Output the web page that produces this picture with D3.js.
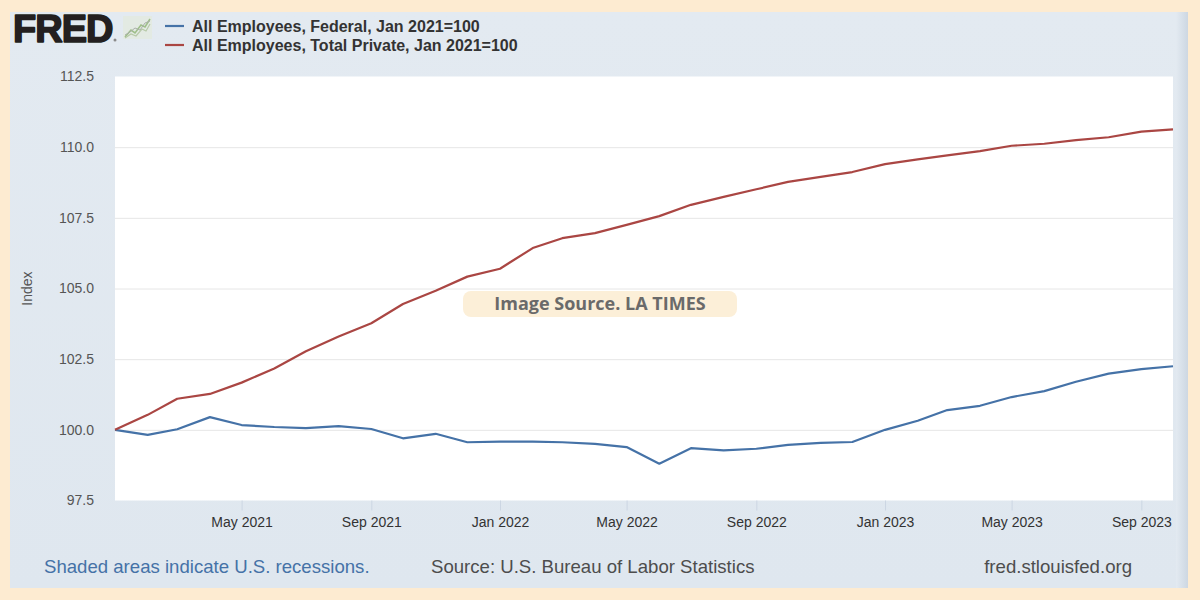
<!DOCTYPE html>
<html>
<head>
<meta charset="utf-8">
<script src="https://cdn.jsdelivr.net/npm/d3@7"></script>
<style>
  html, body { margin: 0; padding: 0; background: #fdebd1; }
  svg { display: block; }
</style>
</head>
<body>
<svg id="chart" width="1200" height="600"></svg>
<script>
// ---- Data ----
const months = [
  "2021-01","2021-02","2021-03","2021-04","2021-05","2021-06","2021-07","2021-08","2021-09","2021-10","2021-11","2021-12",
  "2022-01","2022-02","2022-03","2022-04","2022-05","2022-06","2022-07","2022-08","2022-09","2022-10","2022-11","2022-12",
  "2023-01","2023-02","2023-03","2023-04","2023-05","2023-06","2023-07","2023-08","2023-09","2023-10"
];
const federal = [
  100.00, 99.82, 100.02, 100.45, 100.17, 100.10, 100.06, 100.13, 100.03, 99.70, 99.86, 99.56,
  99.58, 99.58, 99.56, 99.50, 99.39, 98.80, 99.35, 99.27, 99.33, 99.47, 99.54, 99.57,
  100.00, 100.32, 100.70, 100.85, 101.16, 101.37, 101.70, 101.99, 102.15, 102.25
];
const totalPrivate = [
  100.00, 100.53, 101.10, 101.27, 101.67, 102.17, 102.78, 103.30, 103.77, 104.45, 104.92, 105.42,
  105.70, 106.43, 106.78, 106.96, 107.25, 107.56, 107.96, 108.24, 108.51, 108.77, 108.95, 109.12,
  109.40, 109.57, 109.71, 109.86, 110.05, 110.12, 110.25, 110.35, 110.55, 110.63
];
const seriesNames = [
  "All Employees, Federal, Jan 2021=100",
  "All Employees, Total Private, Jan 2021=100"
];
const seriesColors = ["#4572a7", "#aa4643"];
const yTicks = [97.5, 100.0, 102.5, 105.0, 107.5, 110.0, 112.5];
const xTickMonths = ["2021-05","2021-09","2022-01","2022-05","2022-09","2023-01","2023-05","2023-09"];

// ---- Layout ----
const svg = d3.select("#chart");
const W = 1200, H = 600;
const plot = { left: 115, right: 1173, top: 76.5, bottom: 500.5 };
const parse = d3.timeParse("%Y-%m");

// Outer background + panel
svg.append("rect").attr("width", W).attr("height", H).attr("fill", "#fdebd1");
const defs = svg.append("defs");
const pg = defs.append("linearGradient").attr("id", "panelGrad").attr("x1", 0).attr("x2", 0).attr("y1", 0).attr("y2", 1);
pg.append("stop").attr("offset", "0%").attr("stop-color", "#e3eaf1");
pg.append("stop").attr("offset", "100%").attr("stop-color", "#dfe7ef");
svg.append("rect").attr("x", 10).attr("y", 12).attr("width", 1178).attr("height", 576).attr("fill", "url(#panelGrad)");
const sg = defs.append("linearGradient").attr("id", "sideGrad").attr("x1", 0).attr("x2", 1).attr("y1", 0).attr("y2", 0);
sg.append("stop").attr("offset", "0%").attr("stop-color", "#e3eaf1");
sg.append("stop").attr("offset", "100%").attr("stop-color", "#cdd7e2");
svg.append("rect").attr("x", 1176).attr("y", 12).attr("width", 12).attr("height", 576).attr("fill", "url(#sideGrad)");

// Plot area
svg.append("rect")
  .attr("x", plot.left).attr("y", plot.top)
  .attr("width", plot.right - plot.left).attr("height", plot.bottom - plot.top)
  .attr("fill", "#ffffff");

// Scales
const x = d3.scaleTime()
  .domain([parse(months[0]), parse(months[months.length - 1])])
  .range([plot.left, plot.right]);
const y = d3.scaleLinear()
  .domain([yTicks[0], yTicks[yTicks.length - 1]])
  .range([plot.bottom, plot.top]);

// Gridlines (interior)
const grid = svg.append("g").attr("transform", `translate(${plot.left},0)`)
  .call(d3.axisLeft(y).tickValues(yTicks.slice(1, -1)).tickSize(-(plot.right - plot.left)).tickFormat(""));
grid.select(".domain").remove();
grid.selectAll("line").attr("stroke", "#e6e6e6").attr("stroke-width", 1);

// Y axis labels
const yAxis = svg.append("g").attr("transform", `translate(${plot.left},0)`)
  .call(d3.axisLeft(y).tickValues(yTicks).tickSize(0).tickPadding(21).tickFormat(d3.format(".1f")));
yAxis.select(".domain").remove();
yAxis.selectAll("text")
  .attr("font-family", "Liberation Sans, Arial, sans-serif")
  .attr("font-size", 14).attr("fill", "#555");

// X axis
const xAxis = svg.append("g").attr("transform", `translate(0,${plot.bottom})`)
  .call(d3.axisBottom(x).tickValues(xTickMonths.map(parse)).tickSize(10).tickPadding(7)
        .tickFormat(d3.timeFormat("%b %Y")));
xAxis.select(".domain").remove();
xAxis.selectAll("line").attr("stroke", "#ccd6e3");
xAxis.selectAll("text")
  .attr("font-family", "Liberation Sans, Arial, sans-serif")
  .attr("font-size", 14).attr("fill", "#333");

// Y axis title
svg.append("text")
  .attr("transform", `translate(32,${(plot.top + plot.bottom) / 2}) rotate(-90)`)
  .attr("text-anchor", "middle")
  .attr("font-family", "Liberation Sans, Arial, sans-serif")
  .attr("font-size", 14).attr("fill", "#555")
  .text("Index");

// Lines
const line = d3.line()
  .x((d, i) => x(parse(months[i])))
  .y(d => y(d));
[federal, totalPrivate].forEach((vals, k) => {
  svg.append("path")
    .datum(vals)
    .attr("d", line)
    .attr("fill", "none")
    .attr("stroke", seriesColors[k])
    .attr("stroke-width", 2.2)
    .attr("stroke-linejoin", "round");
});

// FRED logo
svg.append("text")
  .attr("x", 13).attr("y", 42)
  .attr("font-family", "Liberation Sans, Arial, sans-serif")
  .attr("font-weight", "bold").attr("font-size", 38)
  .attr("letter-spacing", -1)
  .attr("fill", "#231f20")
  .attr("stroke", "#231f20").attr("stroke-width", 1.6).attr("stroke-linejoin", "round")
  .text("FRED");
svg.append("circle").attr("cx", 115).attr("cy", 40).attr("r", 1.5).attr("fill", "#8a8a8a");
const icon = svg.append("g").attr("transform", "translate(123,16)");
icon.append("rect").attr("width", 29).attr("height", 23).attr("fill", "#e2e9dd").attr("opacity", 0.7);
icon.append("path").attr("d", "M2,21 L8,14 L12,17 L18,9 L22,11 L27,3")
  .attr("fill", "none").attr("stroke", "#9fbf8a").attr("stroke-width", 1.6);
icon.append("path").attr("d", "M2,22 L8,18 L13,20 L19,13 L23,15 L27,8")
  .attr("fill", "none").attr("stroke", "#b7c9a8").attr("stroke-width", 1.2);
icon.append("path").attr("d", "M2,19 L7,16 L12,12 L17,14 L22,7 L27,5")
  .attr("fill", "none").attr("stroke", "#a9b0a8").attr("stroke-width", 1);

// Legend
const legend = svg.append("g");
seriesNames.forEach((name, k) => {
  const ly = 26 + k * 19;
  legend.append("line")
    .attr("x1", 165).attr("x2", 184).attr("y1", ly).attr("y2", ly)
    .attr("stroke", seriesColors[k]).attr("stroke-width", 2.2);
  legend.append("text")
    .attr("x", 192).attr("y", ly + 5.5)
    .attr("font-family", "Liberation Sans, Arial, sans-serif")
    .attr("font-weight", "bold").attr("font-size", 16)
    .attr("fill", "#333")
    .text(name);
});

// Watermark label
svg.append("rect")
  .attr("x", 463).attr("y", 291).attr("width", 274).attr("height", 26).attr("rx", 8)
  .attr("fill", "#fcefd8");
svg.append("text")
  .attr("x", 600).attr("y", 310)
  .attr("text-anchor", "middle")
  .attr("font-family", "Open Sans, Noto Sans, sans-serif")
  .attr("font-weight", "bold").attr("font-size", 18)
  .attr("fill", "#6a6a6a")
  .text("Image Source. LA TIMES");

// Footer
const footFont = "Liberation Sans, Arial, sans-serif";
svg.append("text").attr("x", 44).attr("y", 573)
  .attr("font-family", footFont).attr("font-size", 18.6).attr("fill", "#4572a7")
  .text("Shaded areas indicate U.S. recessions.");
svg.append("text").attr("x", 431).attr("y", 573)
  .attr("font-family", footFont).attr("font-size", 18.6).attr("fill", "#4d4d4d")
  .text("Source: U.S. Bureau of Labor Statistics");
svg.append("text").attr("x", 1132).attr("y", 573).attr("text-anchor", "end")
  .attr("font-family", footFont).attr("font-size", 18.6).attr("fill", "#4d4d4d")
  .text("fred.stlouisfed.org");
</script>
</body>
</html>
